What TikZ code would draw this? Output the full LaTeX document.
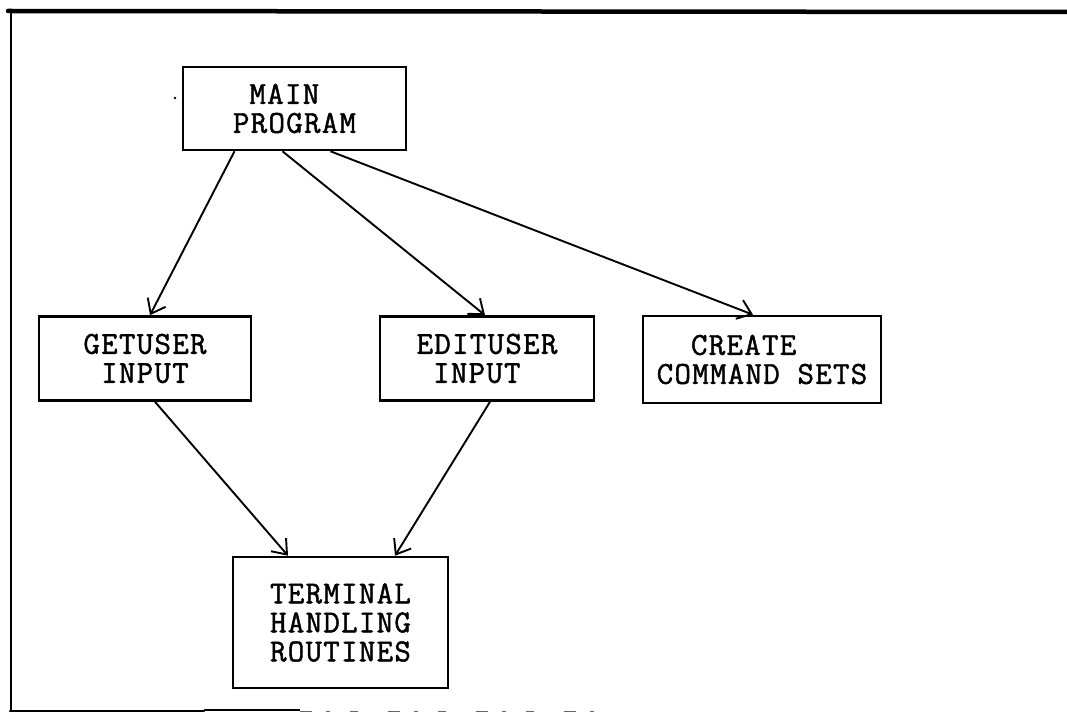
\documentclass[tikz,border=0pt]{standalone}
\usepackage{fontspec}
\newfontfamily\typer{Latin Modern Mono}[FakeBold=1.4, LetterSpace=4]
\usetikzlibrary{arrows.meta}
\begin{document}
\begin{tikzpicture}[x=1pt,y=-1pt,
  box/.style={draw, line width=2.6pt, inner sep=0pt,
    font=\typer\bfseries\fontsize{32}{29}\selectfont},
  link/.style={line width=1.9pt,
    -{Straight Barb[length=13pt,width=20pt,line width=1.9pt]}},
  frameline/.style={line width=2.6pt, line cap=round}]
\useasboundingbox (0,0) rectangle (1067,719);

% outer frame (open on the right, broken along the bottom)
\draw[frameline, line width=4.5pt] (8,11) -- (1067,12);
\draw[frameline] (11,10) -- (11,711);
\draw[frameline, line width=2.2pt] (10,711) -- (204,711);
\draw[line width=1.2pt] (204,710) -- (300,710);
\draw[line width=0.5pt, black!60, dash pattern=on 12pt off 14pt on 4pt off 20pt on 8pt off 30pt]
  (300,711) -- (600,711);

% modules
\node[box, minimum width=223pt, minimum height=83pt, align=left] (main) at (294.5,108.5)
  {\phantom{P}MAIN\\PROGRAM};
\node[box, minimum width=212pt, minimum height=84pt, align=center] (get) at (145,358.5)
  {GETUSER\\INPUT};
\node[box, minimum width=214pt, minimum height=84pt, align=left] (edit) at (487,358.5)
  {EDITUSER\\\phantom{E}INPUT};
\node[box, minimum width=238pt, minimum height=87pt, align=left] (create) at (762,359.5)
  {\phantom{CO}CREATE\\COMMAND SETS};
\node[box, minimum width=215pt, minimum height=131pt, align=left] (term) at (340.5,622.5)
  {TERMINAL\\HANDLING\\ROUTINES};

% small mark beside the main box
\fill (175,98) circle (1.3pt);

% calls
\draw[link] ([xshift=-60pt]main.south) -- ([xshift=5pt]get.north);
\draw[link] ([xshift=-12pt]main.south) -- ([xshift=-2pt]edit.north);
\draw[link] ([xshift=36pt]main.south) -- ([xshift=-9pt]create.north);
\draw[link] ([xshift=10pt]get.south) -- ([xshift=-52.5pt]term.north);
\draw[link] ([xshift=3pt]edit.south) -- ([xshift=54.5pt]term.north);
\end{tikzpicture}
\end{document}
